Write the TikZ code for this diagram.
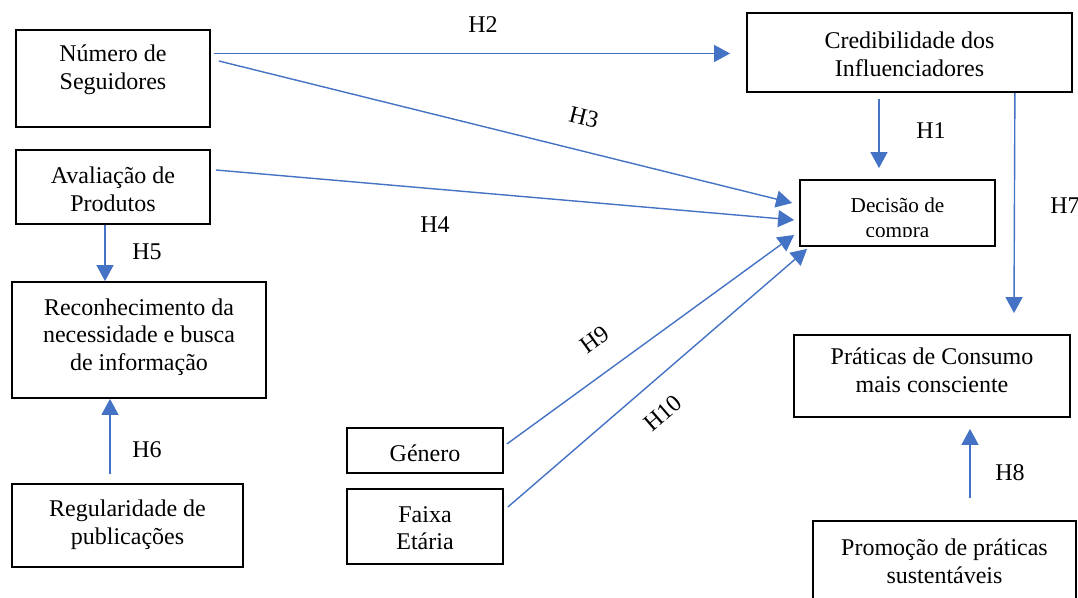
\documentclass[tikz,border=0pt]{standalone}
\usepackage{fontspec}
\setmainfont{Liberation Serif}
\usetikzlibrary{arrows.meta,calc}
\definecolor{myblue}{HTML}{4472C4}
\begin{document}
\begin{tikzpicture}[x=0.5pt,y=-0.5pt,
  box/.style={draw=black,line width=0.9pt,inner sep=0pt,fill=none},
  txt/.style={align=center,inner sep=0pt,font=\fontsize{12pt}{13.8pt}\selectfont},
  small/.style={align=center,inner sep=0pt,font=\fontsize{10.6pt}{12.4pt}\selectfont},
  lab/.style={inner sep=0pt,font=\fontsize{12pt}{13.8pt}\selectfont},
  arr/.style={draw=myblue,line width=0.7pt,-{Triangle[length=8pt,width=8.5pt]}}]
\useasboundingbox (0,0) rectangle (1078,598);
\clip (0,0) rectangle (1078,598);
% boxes
\node[box,minimum width=97pt,minimum height=48.5pt] (seg) at (113,78.5) {};
\node[box,minimum width=97pt,minimum height=37pt] (aval) at (113,187) {};
\node[box,minimum width=127pt,minimum height=58pt] (rec) at (139,340) {};
\node[box,minimum width=115.5pt,minimum height=41.5pt] (reg) at (127.5,525.5) {};
\node[box,minimum width=78pt,minimum height=22.5pt] (gen) at (425,450.5) {};
\node[box,minimum width=78pt,minimum height=37.5pt] (faixa) at (425,526.5) {};
\node[box,minimum width=162.5pt,minimum height=39.5pt] (cred) at (909.5,52.5) {};
\node[box,minimum width=97.5pt,minimum height=33pt] (dec) at (897.5,213) {};
\node[box,minimum width=138pt,minimum height=41pt] (prat) at (932,376) {};
\node[box,minimum width=131.5pt,minimum height=49.5pt] (prom) at (944.5,570.5) {};
% texts
\node[txt] (segT) at (113,70) {Número de\\Seguidores};
\node[txt] (avalT) at (113,189) {Avaliação de\\Produtos};
\node[txt] (recT) at (139,337) {Reconhecimento da\\necessidade e busca\\de informação};
\node[txt] (regT) at (127.5,525) {Regularidade de\\publicações};
\node[txt] (genT) at (425,453) {Género};
\node[txt] (faixaT) at (425,528) {Faixa\\Etária};
\node[txt] (credT) at (909.5,54) {Credibilidade dos\\Influenciadores};
\node[txt] (pratT) at (932,370) {Práticas de Consumo\\mais consciente};
\node[txt] (promT) at (944.5,561) {Promoção de práticas\\sustentáveis};
\begin{scope}
\clip (800,180) rectangle (995,237);
\node[small] (decT) at (897.5,220) {Decisão de\\compra};
\end{scope}
% connectors
\draw[arr] ([shift={(3,-25)}]seg.east) -- ([shift={(-16,1)}]cred.west);
\draw[arr] ([shift={(8,-17.5)}]seg.east) -- ([shift={(-7,-10)}]dec.west);
\draw[arr] ([shift={(5,-17)}]aval.east) -- ([shift={(-5,7)}]dec.west);
\draw[arr] ([shift={(3,-6.5)}]gen.east) -- ([shift={(-5,22)}]dec.west);
\draw[arr] ([shift={(4,-19.5)}]faixa.east) -- ([shift={(8,2)}]dec.south west);
\draw[arr] ([shift={(-30.5,6)}]cred.south) -- ([shift={(-18.5,-11)}]dec.north);
\draw[arr] ([shift={(-58,0)}]cred.south east) -- ([shift={(82,-21)}]prat.north);
\draw[arr] ([shift={(-8,0)}]aval.south) -- ([shift={(-34,0)}]rec.north);
\draw[arr] ([shift={(-17.5,-9)}]reg.north) -- ([shift={(-29,0)}]rec.south);
\draw[arr] ([shift={(25.5,-22)}]prom.north) -- ([shift={(38,11)}]prat.south);
% labels
\node[lab] (h2) at (483,25) {H2};
\node[lab,rotate=-14] (h3) at (584,117) {H3};
\node[lab] (h4) at (435,225) {H4};
\node[lab] (h1) at (931,131) {H1};
\node[lab] (h7) at (1065,206) {H7};
\node[lab] (h5) at (147,252) {H5};
\node[lab] (h6) at (147,450) {H6};
\node[lab] (h8) at (1010,473) {H8};
\node[lab,rotate=36] (h9) at (595,340) {H9};
\node[lab,rotate=41] (h10) at (663,413) {H10};
\end{tikzpicture}
\end{document}
